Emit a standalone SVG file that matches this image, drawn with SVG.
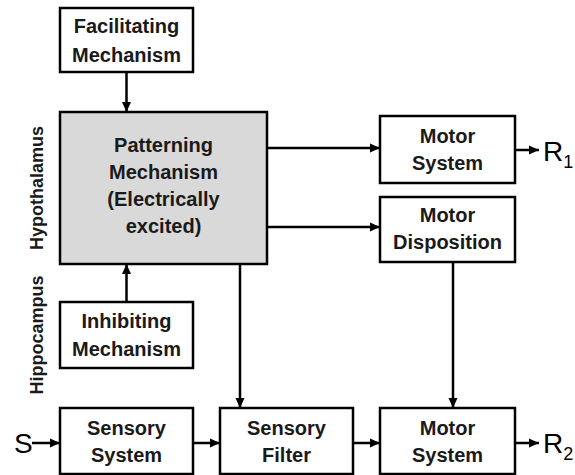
<svg xmlns="http://www.w3.org/2000/svg" width="575" height="475" viewBox="0 0 575 475">
<defs>
<marker id="ah" markerWidth="10" markerHeight="10" viewBox="0 0 10 10" refX="10" refY="5" markerUnits="userSpaceOnUse" orient="auto">
<path d="M0,0.5 L10,5 L0,9.5 Z" fill="#000"/>
</marker>
</defs>
<style>
.box{fill:#fff;stroke:#000;stroke-width:2.5}
.gray{fill:#d9d9d9;stroke:#000;stroke-width:2.5}
.t{font-family:"Liberation Sans",Arial,sans-serif;font-weight:bold;font-size:20px;fill:#1a1a1a;text-anchor:middle}
.side{font-family:"Liberation Sans",Arial,sans-serif;font-weight:bold;font-size:18px;fill:#1a1a1a;text-anchor:middle}
.big{font-family:"Liberation Sans",Arial,sans-serif;font-size:28px;fill:#000}
.sub{font-family:"Liberation Sans",Arial,sans-serif;font-size:18px;fill:#000}
.c{fill:none;stroke:#000;stroke-width:2.5}
</style>
<rect width="575" height="475" fill="#fff"/>
<g id="facilitating"><rect class="box" x="60" y="8" width="133" height="64"/><text class="t" x="126.5" y="33">Facilitating</text><text class="t" x="126.5" y="62">Mechanism</text></g>
<g id="patterning"><rect class="gray" x="60" y="112" width="207" height="152"/><text class="t" x="163.5" y="152">Patterning</text><text class="t" x="163.5" y="179">Mechanism</text><text class="t" x="163.5" y="206">(Electrically</text><text class="t" x="163.5" y="233">excited)</text></g>
<g id="inhibiting"><rect class="box" x="60" y="302" width="133" height="66"/><text class="t" x="126.5" y="328">Inhibiting</text><text class="t" x="126.5" y="356">Mechanism</text></g>
<g id="motor1"><rect class="box" x="380" y="116" width="135" height="67"/><text class="t" x="447.5" y="143">Motor</text><text class="t" x="447.5" y="170">System</text></g>
<g id="disposition"><rect class="box" x="380" y="197" width="135" height="65"/><text class="t" x="447.5" y="222">Motor</text><text class="t" x="447.5" y="249">Disposition</text></g>
<g id="sensory"><rect class="box" x="60" y="408" width="133" height="66"/><text class="t" x="126.5" y="435">Sensory</text><text class="t" x="126.5" y="462">System</text></g>
<g id="filter"><rect class="box" x="220" y="408" width="133" height="66"/><text class="t" x="286.5" y="435">Sensory</text><text class="t" x="286.5" y="462">Filter</text></g>
<g id="motor2"><rect class="box" x="380" y="408" width="135" height="66"/><text class="t" x="447.5" y="435">Motor</text><text class="t" x="447.5" y="462">System</text></g>
<g id="labels">
<text class="side" transform="translate(43,188) rotate(-90)">Hypothalamus</text>
<text class="side" transform="translate(43,335) rotate(-90)">Hippocampus</text>
<text class="big" x="14" y="453">S</text>
<text class="big" x="543" y="161">R<tspan class="sub" dy="7">1</tspan></text>
<text class="big" x="543" y="453">R<tspan class="sub" dy="7">2</tspan></text>
</g>
<g id="connectors">
<line class="c" x1="126.5" y1="72" x2="126.5" y2="112" marker-end="url(#ah)"/>
<line class="c" x1="126.5" y1="302" x2="126.5" y2="264" marker-end="url(#ah)"/>
<line class="c" x1="267" y1="148" x2="380" y2="148" marker-end="url(#ah)"/>
<line class="c" x1="267" y1="227" x2="380" y2="227" marker-end="url(#ah)"/>
<line class="c" x1="240" y1="264" x2="240" y2="408" marker-end="url(#ah)"/>
<line class="c" x1="453" y1="262" x2="453" y2="408" marker-end="url(#ah)"/>
<line class="c" x1="32" y1="443" x2="60" y2="443" marker-end="url(#ah)"/>
<line class="c" x1="193" y1="443" x2="220" y2="443" marker-end="url(#ah)"/>
<line class="c" x1="353" y1="443" x2="380" y2="443" marker-end="url(#ah)"/>
<line class="c" x1="515" y1="150" x2="539" y2="150" marker-end="url(#ah)"/>
<line class="c" x1="515" y1="443" x2="539" y2="443" marker-end="url(#ah)"/>
</g>
</svg>
